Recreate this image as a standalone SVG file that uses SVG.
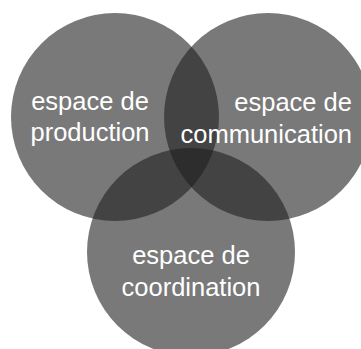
<svg xmlns="http://www.w3.org/2000/svg" width="361" height="349" viewBox="0 0 361 349">
<style>
.c{fill:#1f1f1f;fill-opacity:0.6}
.t{fill:#ffffff;font-family:"Liberation Sans",Arial,sans-serif;font-size:25.5px}
</style>
<rect width="361" height="349" fill="#ffffff"/>
<g id="production">
<circle class="c" cx="115" cy="117" r="104"/>
</g>
<g id="communication">
<circle class="c" cx="268" cy="117" r="104"/>
</g>
<g id="coordination">
<circle class="c" cx="191" cy="252" r="104"/>
</g>
<g id="connectors"></g>
<g id="labels">
<text class="t" x="90" y="110" text-anchor="middle">espace de</text>
<text class="t" x="90" y="141" text-anchor="middle">production</text>
<text class="t" x="352" y="111" text-anchor="end">espace de</text>
<text class="t" x="352" y="143" text-anchor="end">communication</text>
<text class="t" x="191" y="264" text-anchor="middle">espace de</text>
<text class="t" x="191" y="296" text-anchor="middle">coordination</text>
</g>
</svg>
